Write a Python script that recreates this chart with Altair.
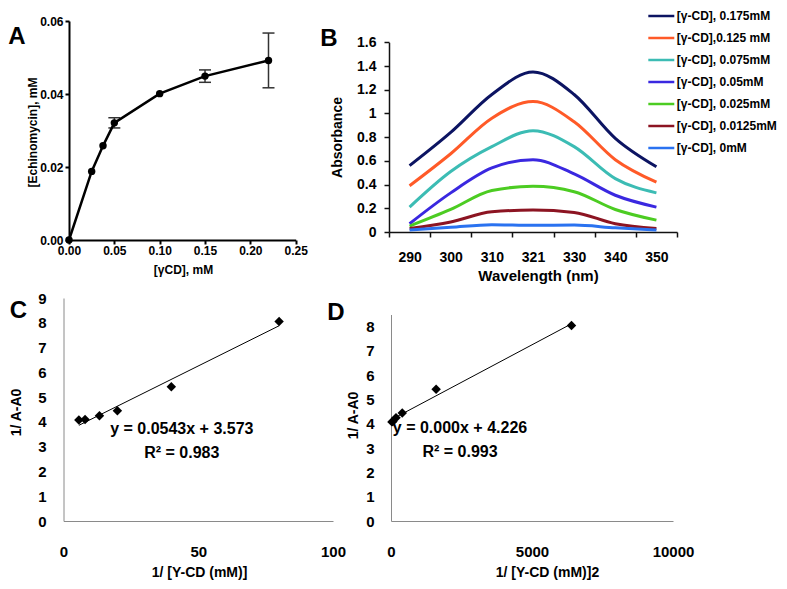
import altair as alt
import pandas as pd

FONT = "Liberation Sans"
W, H = 771, 573

# ---------------- Panel A data ----------------
conc_A = [0.0, 0.025, 0.0375, 0.05, 0.10, 0.15, 0.22]
echino_A = [0.0, 0.0188, 0.0258, 0.0321, 0.0401, 0.0449, 0.0492]
err_A = [0.0, 0.0, 0.0, 0.0014, 0.0, 0.0017, 0.0075]

# ---------------- Panel B data ----------------
wavelengths = ["290", "300", "310", "321", "330", "340", "350"]
series_B = ["[γ-CD], 0.175mM", "[γ-CD],0.125  mM", "[γ-CD], 0.075mM",
            "[γ-CD], 0.05mM", "[γ-CD], 0.025mM", "[γ-CD], 0.0125mM", "[γ-CD], 0mM"]
colors_B = ["#0c1462", "#ff5a28", "#3cbcb4", "#3a28e0", "#4ccc22", "#8c1422", "#2a72f0"]
abs_0175 = [0.56, 0.84, 1.16, 1.35, 1.16, 0.79, 0.55]
abs_0125 = [0.39, 0.66, 0.96, 1.10, 0.93, 0.61, 0.42]
abs_0075 = [0.21, 0.51, 0.72, 0.855, 0.72, 0.45, 0.33]
abs_005 = [0.07, 0.33, 0.54, 0.61, 0.49, 0.31, 0.21]
abs_0025 = [0.05, 0.19, 0.35, 0.385, 0.34, 0.19, 0.10]
abs_00125 = [0.03, 0.085, 0.17, 0.185, 0.165, 0.07, 0.03]
abs_0 = [0.017, 0.04, 0.062, 0.056, 0.058, 0.035, 0.017]
abs_all = [abs_0175, abs_0125, abs_0075, abs_005, abs_0025, abs_00125, abs_0]

# ---------------- Panels C / D data ----------------
inv_c = [5.714, 8.0, 13.33, 20.0, 40.0, 80.0]          # 1/[γ-CD] (mM^-1)
inv_c2 = [32.65, 64.0, 177.8, 400.0, 1600.0, 6400.0]   # 1/[γ-CD]^2
inv_dA = [4.08, 4.10, 4.25, 4.45, 5.42, 8.05]          # 1/(A-A0)

eq_C = ["y = 0.0543x + 3.573", "R² = 0.983"]
eq_D = ["y = 0.000x + 4.226", "R² = 0.993"]

dfA = pd.DataFrame({"conc": conc_A, "echino": echino_A, "err": err_A})
dfB = pd.DataFrame([
    {"wl": w, "series": s, "abs": v}
    for s, vals in zip(series_B, abs_all)
    for w, v in zip(wavelengths, vals)
])
dfCD = pd.DataFrame({"invc": inv_c, "invc2": inv_c2, "invdA": inv_dA})
one = pd.DataFrame({"k": [0]})


def ax(orient, offset, **kw):
    base = dict(orient=orient, offset=offset, grid=False, labelFont=FONT, titleFont=FONT,
                labelFontWeight="bold", titleFontWeight="bold", labelColor="black",
                titleColor="black", labelFlush=False, labelOverlap=False,
                titleBaseline="middle", titleAlign="center")
    base.update(kw)
    return alt.Axis(**base)


# ---------------- Panel A ----------------
axA_x = ax("bottom", 232 - H, values=[0, 0.05, 0.10, 0.15, 0.20, 0.25], format=".2f",
           domainColor="black", domainWidth=2, tickColor="black", tickWidth=2, tickSize=4,
           labelFontSize=12, labelPadding=1, title="[γCD], mM", titleFontSize=12,
           titleX=175, titleY=29)
axA_y = ax("left", -61, values=[0, 0.02, 0.04, 0.06], format=".2f",
           domainColor="black", domainWidth=2, tickColor="black", tickWidth=2, tickSize=4,
           labelFontSize=12, labelPadding=2, title="[Echinomycin], mM", titleFontSize=12,
           titleX=-37, titleY=124)
scA_x = alt.Scale(domain=[0, 0.25], range=[61, 287.7], nice=False, zero=False)
scA_y = alt.Scale(domain=[0, 0.06], range=[232, 13], nice=False)
xA = alt.X("conc:Q", scale=scA_x, axis=axA_x)

baseA = alt.Chart(dfA)
lineA = baseA.mark_line(color="black", strokeWidth=2.5).encode(
    x=xA, y=alt.Y("echino:Q", scale=scA_y, axis=axA_y))
ptsA = baseA.mark_circle(color="black", size=55, opacity=1).encode(
    x=xA, y=alt.Y("echino:Q", scale=scA_y, axis=axA_y))
errbase = baseA.transform_filter("datum.err > 0").transform_calculate(
    lo="datum.echino - datum.err", hi="datum.echino + datum.err")
errA = errbase.mark_rule(color="#333333", strokeWidth=1.5).encode(
    x=xA, y=alt.Y("lo:Q", scale=scA_y, axis=axA_y), y2="hi:Q")
capLo = errbase.mark_tick(orient="horizontal", size=12, thickness=1.5, color="#333333",
                          opacity=1).encode(x=xA, y=alt.Y("lo:Q", scale=scA_y, axis=axA_y))
capHi = errbase.mark_tick(orient="horizontal", size=12, thickness=1.5, color="#333333",
                          opacity=1).encode(x=xA, y=alt.Y("hi:Q", scale=scA_y, axis=axA_y))
panelA = alt.layer(errA, capLo, capHi, lineA, ptsA)

# ---------------- Panel B ----------------
axB_x = ax("bottom", 224 - H, tickBand="extent", domainColor="#111111", domainWidth=1.5,
           tickColor="#111111", tickWidth=1.5, tickSize=5, labelFontSize=14, labelPadding=13,
           labelAngle=0, title="Wavelength (nm)", titleFontSize=15, titleX=530, titleY=43)
axB_y = ax("left", -381, values=[0, 0.2, 0.4, 0.6, 0.8, 1.0, 1.2, 1.4, 1.6], format=".1~f",
           domainColor="#111111", domainWidth=1.5, tickColor="#111111", tickWidth=1.5,
           tickSize=5, labelFontSize=14, labelPadding=8, title="Absorbance",
           titleFontSize=14, titleX=-52, titleY=129)
panelB = alt.Chart(dfB).mark_line(strokeWidth=3, interpolate="monotone").encode(
    x=alt.X("wl:O", sort=wavelengths,
            scale=alt.Scale(type="band", domain=wavelengths, range=[381, 669],
                            paddingInner=0, paddingOuter=0),
            bandPosition=0.5, axis=axB_x),
    y=alt.Y("abs:Q", scale=alt.Scale(domain=[0, 1.6], range=[224, 34.3], nice=False),
            axis=axB_y),
    color=alt.Color("series:N", sort=series_B,
                    scale=alt.Scale(domain=series_B, range=colors_B),
                    legend=alt.Legend(title=None, orient="none", legendX=643.3, legendY=-2,
                                      symbolType="M-1.5,0L1.5,0", symbolSize=300,
                                      symbolStrokeWidth=2.5, labelFont=FONT,
                                      labelFontSize=12, labelFontWeight="bold",
                                      labelColor="black", labelOffset=5.5, labelLimit=0,
                                      rowPadding=6, padding=0)),
)

# ---------------- Panels C / D ----------------
def scatter_panel(xfield, x_dom, x_rng, x_vals, y_dom, y_rng, y_vals, axis_x_pos, xtitle,
                  xtitleX, ytitleX, ytitleY, eq, eq_x, eq_y, lab_pad_y):
    ax_x = ax("bottom", axis_x_pos - H, values=x_vals, format="d", domainColor="#8a8a8a",
              domainWidth=1, ticks=False, tickSize=0, labelFontSize=15, labelPadding=23.6,
              title=xtitle, titleFontSize=14, titleX=xtitleX, titleY=51)
    ax_y = ax("left", -x_rng[0], values=y_vals, format="d", domainColor="#8a8a8a",
              domainWidth=1, ticks=False, tickSize=0, labelFontSize=15,
              labelPadding=lab_pad_y, title="1/ A-A0", titleFontSize=14, titleX=ytitleX,
              titleY=ytitleY)
    sx = alt.Scale(domain=x_dom, range=x_rng, nice=False, zero=False)
    sy = alt.Scale(domain=y_dom, range=y_rng, nice=False)
    X = alt.X(f"{xfield}:Q", scale=sx, axis=ax_x)
    Y = alt.Y("invdA:Q", scale=sy, axis=ax_y)
    fit = alt.Chart(dfCD).transform_regression(xfield, "invdA").mark_line(
        color="black", strokeWidth=1).encode(x=X, y=Y)
    pts = alt.Chart(dfCD).mark_point(shape="diamond", filled=True, color="black", size=90,
                                     opacity=1).encode(x=X, y=Y)
    txt = alt.Chart(one).mark_text(text=eq, font=FONT, fontSize=16, fontWeight="bold",
                                   lineHeight=24, baseline="top", align="center",
                                   color="black").encode(
        x=alt.X(datum=eq_x, scale=sx, axis=ax_x), y=alt.Y(datum=eq_y, scale=sy, axis=ax_y))
    return alt.layer(fit, pts, txt)


panelC = scatter_panel("invc", [0, 100], [55.5, 325], [0, 50, 100], [0, 9], [513, 290],
                       list(range(10)), 513, "1/ [Y-CD (mM)]", 191, -47, 404,
                       eq_C, 43.9, 4.02, 17.4)
panelD = scatter_panel("invc2", [0, 10000], [383, 665], [0, 5000, 10000], [0, 8.5],
                       [513, 306.5], list(range(9)), 513, "1/ [Y-CD (mM)]2", 539, -38, 407,
                       eq_D, 2447, 4.16, 17)

# ---------------- Panel letters ----------------
def letter(t, px, py):
    return alt.Chart(one).mark_text(text=t, font=FONT, fontSize=24, fontWeight="bold",
                                    color="black", align="center", baseline="middle").encode(
        x=alt.value(px), y=alt.value(py))


letters = [letter("A", 9, 29), letter("B", 321, 31), letter("C", 10.5, 303),
           letter("D", 328, 305)]

chart = alt.layer(panelA, panelB, panelC, panelD, *letters).resolve_scale(
    x="independent", y="independent", color="independent"
).resolve_axis(x="independent", y="independent").properties(
    width=W, height=H, padding=0, autosize=alt.AutoSizeParams(type="none")
).configure_view(stroke=None)

chart.save("out.html", embed_options={"renderer": "svg", "actions": False})
